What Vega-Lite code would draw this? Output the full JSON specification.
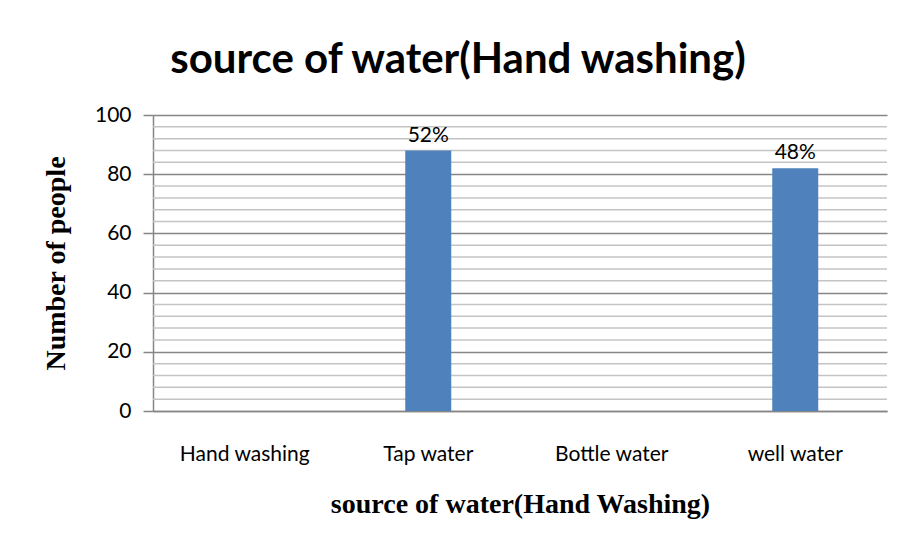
{
  "$schema": "https://vega.github.io/schema/vega-lite/v6.json",
  "width": 734,
  "height": 296,
  "autosize": {"type": "none"},
  "padding": {"left": 153, "top": 115, "right": 18, "bottom": 137},
  "background": "white",
  "config": {"view": {"stroke": null}},
  "title": {
    "text": "source of water(Hand washing)",
    "anchor": "middle",
    "dx": -62,
    "offset": -20,
    "baseline": "bottom",
    "font": "Lato",
    "fontSize": 42,
    "fontWeight": "bold",
    "color": "black"
  },
  "datasets": {
    "bars": [
      {"source": "Hand washing", "people": 0, "label": ""},
      {"source": "Tap water", "people": 88, "label": "52%"},
      {"source": "Bottle water", "people": 0, "label": ""},
      {"source": "well water", "people": 82, "label": "48%"}
    ],
    "minor": [
      {"v": 4}, {"v": 8}, {"v": 12}, {"v": 16},
      {"v": 24}, {"v": 28}, {"v": 32}, {"v": 36},
      {"v": 44}, {"v": 48}, {"v": 52}, {"v": 56},
      {"v": 64}, {"v": 68}, {"v": 72}, {"v": 76},
      {"v": 84}, {"v": 88}, {"v": 92}, {"v": 96}
    ]
  },
  "layer": [
    {
      "data": {"name": "minor"},
      "mark": {"type": "rule", "color": "#c4c4c4", "strokeWidth": 1.5},
      "encoding": {
        "y": {"field": "v", "type": "quantitative", "scale": {"domain": [0, 100], "nice": false}}
      }
    },
    {
      "data": {"name": "bars"},
      "mark": {"type": "bar", "size": 46, "color": "#4F81BD"},
      "encoding": {
        "x": {
          "field": "source", "type": "nominal", "sort": null,
          "scale": {"paddingInner": 0, "paddingOuter": 0},
          "axis": {
            "title": "source of water(Hand Washing)",
            "labelAngle": 0,
            "ticks": false,
            "labelPadding": 32,
            "labelFont": "Lato",
            "labelFontSize": 21,
            "labelColor": "black",
            "domainColor": "#868686",
            "domainWidth": 1.5,
            "titleFont": "Liberation Serif",
            "titleFontSize": 28,
            "titleFontWeight": "bold",
            "titleColor": "black",
            "titlePadding": 26
          }
        },
        "y": {
          "field": "people", "type": "quantitative",
          "scale": {"domain": [0, 100], "nice": false},
          "axis": {
            "title": "Number of people",
            "values": [0, 20, 40, 60, 80, 100],
            "grid": true,
            "gridColor": "#868686",
            "gridWidth": 1.5,
            "domainColor": "#868686",
            "domainWidth": 1.5,
            "tickColor": "#868686",
            "tickSize": 10,
            "tickWidth": 1.5,
            "labelPadding": 12,
            "labelFont": "Lato",
            "labelFontSize": 21,
            "labelColor": "black",
            "titleFont": "Liberation Serif",
            "titleFontSize": 28,
            "titleFontWeight": "bold",
            "titleColor": "black",
            "titlePadding": 24
          }
        }
      }
    },
    {
      "data": {"name": "bars"},
      "mark": {"type": "text", "baseline": "bottom", "dy": -5, "font": "Lato", "fontSize": 21, "color": "black"},
      "encoding": {
        "x": {"field": "source", "type": "nominal", "sort": null},
        "y": {"field": "people", "type": "quantitative"},
        "text": {"field": "label"}
      }
    }
  ]
}
